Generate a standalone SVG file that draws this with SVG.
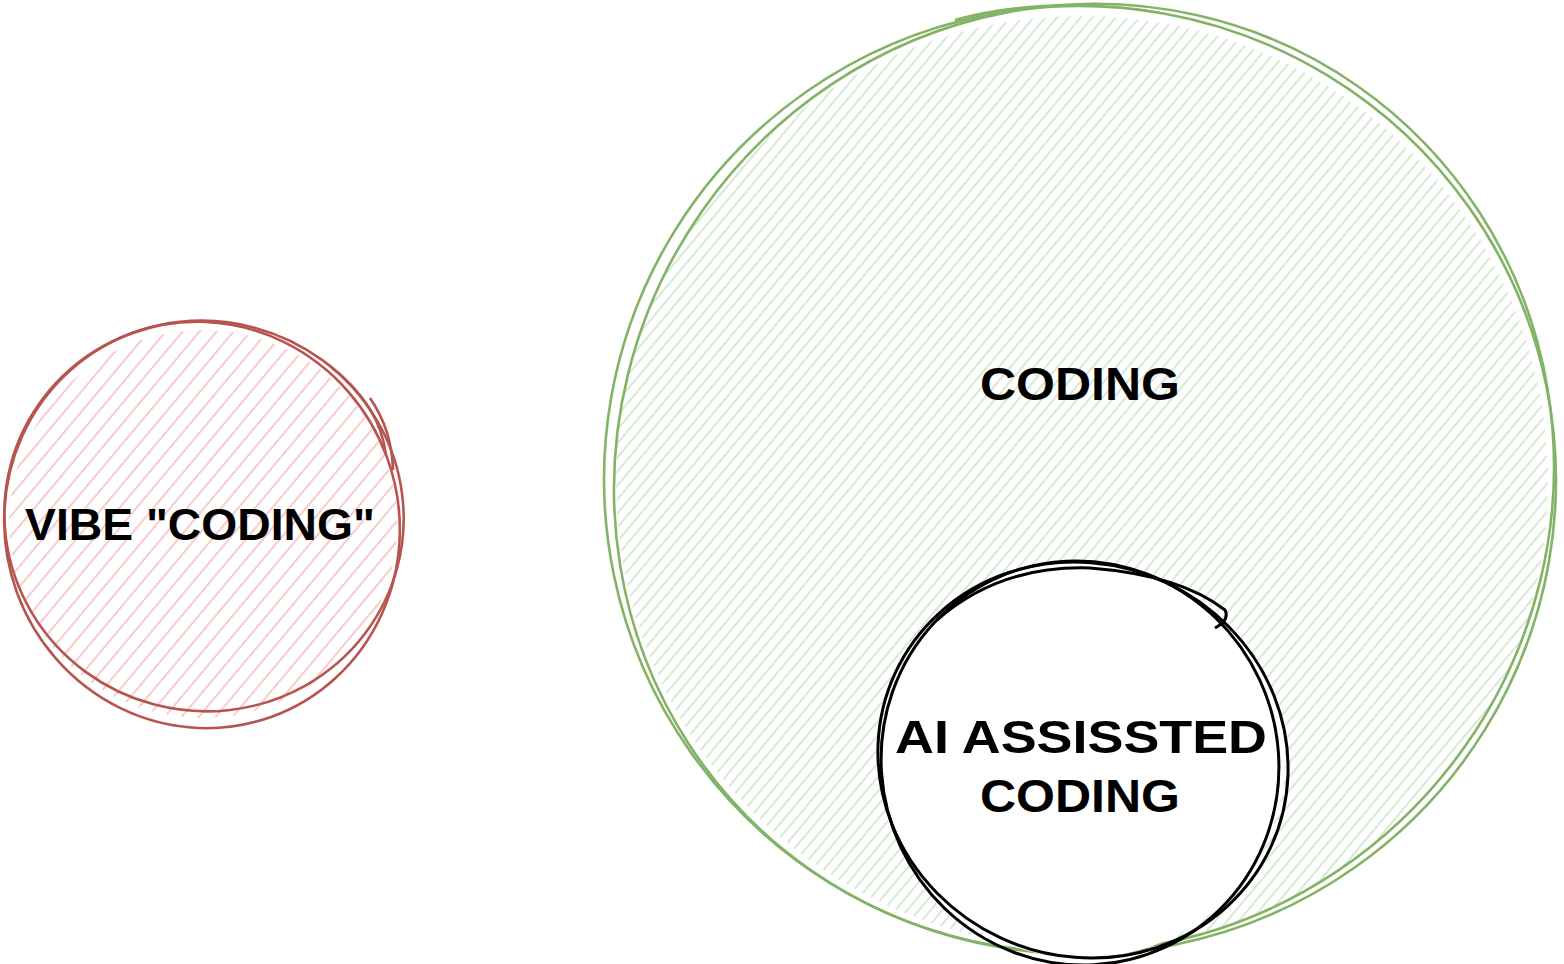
<svg xmlns="http://www.w3.org/2000/svg" width="1564" height="964" viewBox="0 0 1564 964">
  <defs>
    <pattern id="hatchRed" width="13" height="13" patternUnits="userSpaceOnUse" patternTransform="rotate(40)">
      <line x1="2" y1="0" x2="2" y2="13" stroke="#f4b6b4" stroke-width="1.4"/>
    </pattern>
    <pattern id="hatchGreen" width="9" height="9" patternUnits="userSpaceOnUse" patternTransform="rotate(40)">
      <line x1="2" y1="0" x2="2" y2="9" stroke="#c2ddbf" stroke-width="1.3"/>
    </pattern>
  </defs>
  <style>
    .lbl { font-family: "Liberation Sans", Arial, sans-serif; font-weight: bold; fill: #000000; text-anchor: middle; }
    .red { fill: none; stroke: #b85450; stroke-width: 2.6; }
    .green { fill: none; stroke: #82b366; stroke-width: 2.6; }
    .black { fill: none; stroke: #000000; stroke-width: 3; }
  </style>
  <rect width="1564" height="964" fill="#ffffff"/>

  <g id="vibe-coding">
    <circle cx="203" cy="524" r="194" fill="url(#hatchRed)"/>
    <ellipse class="red" cx="204" cy="516" rx="200" ry="195" transform="rotate(15 204 516)"/>
    <ellipse class="red" cx="202" cy="525" rx="197" ry="204" transform="rotate(-20 202 525)"/>
    <path class="red" d="M330,366 Q380,405 386,455"/>
    <path class="red" d="M370,398 Q392,430 393,470"/>
    <text class="lbl" x="200" y="540" font-size="44" textLength="350" lengthAdjust="spacingAndGlyphs">VIBE "CODING"</text>
  </g>

  <g id="coding">
    <circle cx="1082" cy="482" r="466" fill="url(#hatchGreen)"/>
    <ellipse class="green" cx="1080" cy="480" rx="476" ry="474" transform="rotate(10 1080 480)"/>
    <ellipse class="green" cx="1084" cy="478" rx="466" ry="478" transform="rotate(35 1084 478)"/>
    <path class="green" d="M955,20 Q1020,2 1100,6"/>
    <text class="lbl" x="1080" y="400" font-size="46" textLength="200" lengthAdjust="spacingAndGlyphs">CODING</text>
  </g>

  <g id="ai-assisted-coding">
    <ellipse cx="1082" cy="760" rx="203" ry="198" fill="#ffffff"/>
    <ellipse class="black" cx="1083" cy="760" rx="207" ry="196" transform="rotate(25 1083 760)"/>
    <ellipse class="black" cx="1080" cy="763" rx="198" ry="203" transform="rotate(-25 1080 763)"/>
    <path class="black" d="M937,620 Q1000,565 1090,568 Q1180,575 1225,610 Q1230,620 1215,628"/>
    <text class="lbl" x="1081" y="753" font-size="46" textLength="372" lengthAdjust="spacingAndGlyphs">AI ASSISSTED</text>
    <text class="lbl" x="1080" y="812" font-size="46" textLength="200" lengthAdjust="spacingAndGlyphs">CODING</text>
  </g>

  <g id="connectors"></g>
</svg>
